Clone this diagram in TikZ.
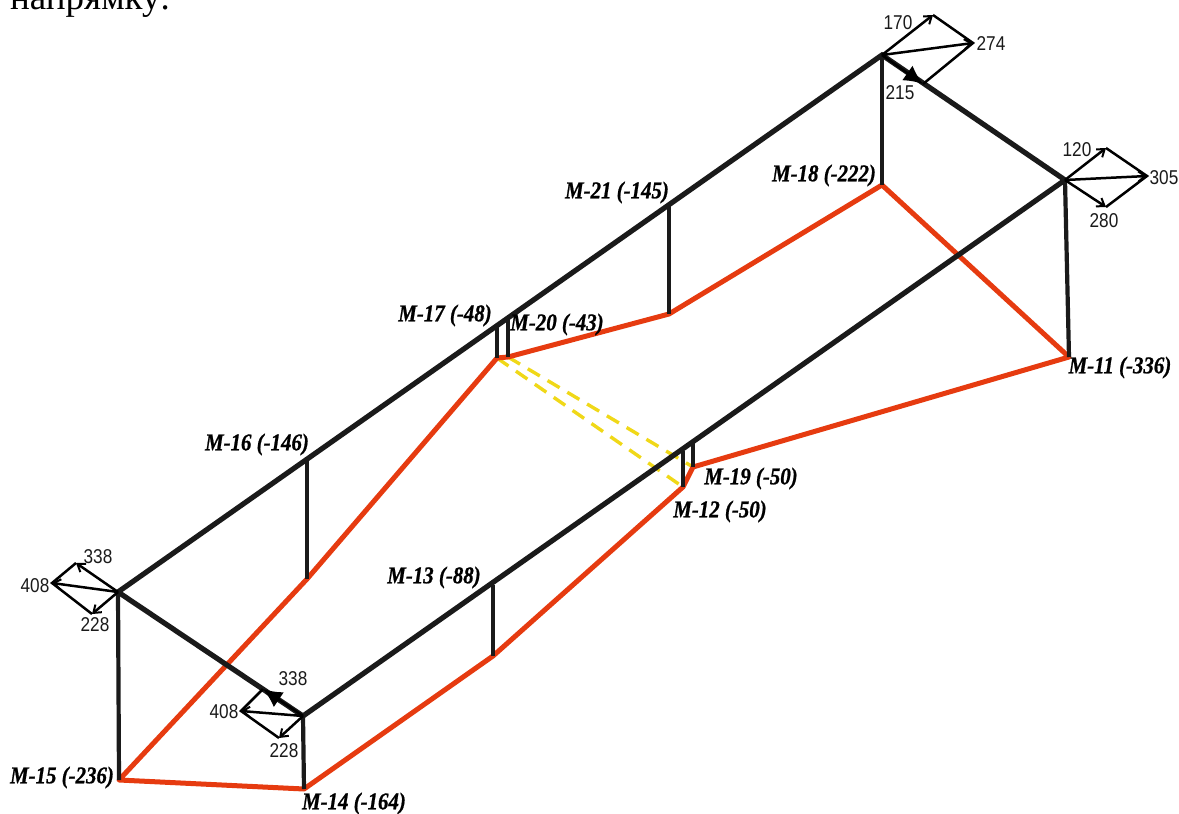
\documentclass[tikz,border=0pt]{standalone}
\usepackage{fontspec}
\setmainfont{Liberation Serif}
\newfontfamily\numfont[FakeStretch=0.86]{Liberation Sans}
\newfontfamily\markfont[FakeStretch=0.87,BoldItalicFeatures={FakeStretch=0.87,FakeBold=0.8}]{Liberation Serif}
\usetikzlibrary{arrows.meta}
\definecolor{beam}{HTML}{1A1A1A}
\definecolor{cable}{HTML}{E63B10}
\definecolor{yel}{HTML}{F0D818}
\tikzset{
  beamline/.style={draw=beam,line width=5.2pt,line cap=round},
  hangline/.style={draw=beam,line width=4.2pt},
  cableline/.style={draw=cable,line width=5pt,line join=round},
  tieline/.style={draw=yel,line width=3.4pt,dash pattern=on 14pt off 9pt},
  force/.style={draw=black,line width=2.5pt,-{Straight Barb[length=7pt,width=10pt,line width=2pt]}},
  bigforce/.style={draw=black,line width=2.5pt,-{Latex[length=19pt,width=18pt]}},
  guide/.style={draw=black,line width=2.5pt},
  marklabel/.style={inner sep=0pt,yshift=-1.5pt,font=\markfont\fontsize{24}{24}\selectfont\bfseries\itshape,text=black},
  numlabel/.style={inner sep=0pt,yshift=-0.5pt,font=\numfont\fontsize{20}{20}\selectfont,text=beam},
}
\begin{document}
\begin{tikzpicture}[x=1pt,y=-1pt]
\path[use as bounding box] (0,0) rectangle (1179,814);
\begin{scope}
\clip (0,0) rectangle (1179,814);
\node[inner sep=0pt,anchor=base west,font=\fontsize{37}{37}\selectfont] (head) at (10,9) {напрямку:};
\end{scope}
% corners of the top frame
\coordinate (A) at (118,592);
\coordinate (T) at (882,55);
\coordinate (R) at (1065,180);
\coordinate (B) at (303,716);
% lower chord
\coordinate (m15) at (119,780);
\coordinate (m14) at (304,789);
\coordinate (m13) at (493,656);
\coordinate (m12) at (683,487);
\coordinate (m19) at (693,467);
\coordinate (m11) at (1069,357);
\coordinate (m18) at (882,185);
\coordinate (m21) at (669,314);
\coordinate (m20) at (508,357);
\coordinate (m17) at (497,358);
\coordinate (m16) at (307,579);
% hanger tops
\coordinate (t21) at (669,203);
\coordinate (t16) at (307,458);
\coordinate (t13) at (493,585);
\coordinate (t17) at (497,325);
\coordinate (t20) at (508,318);
\coordinate (t12) at (683,451);
\coordinate (t19) at (693,443);
% tie
\draw[tieline] (m17) -- (m12);
\draw[tieline] (m20) -- (m19);
% cable
\draw[cableline] (m15) -- (m14) -- (m13) -- (m12) -- (m19) -- (m11) -- (m18) -- (m21) -- (m20) -- (m17) -- (m16) -- cycle;
% frame
\draw[beamline] (A) -- (T) -- (R) -- (B) -- cycle;
% hangers
\foreach \a/\b in {A/m15,B/m14,T/m18,R/m11,t21/m21,t16/m16,t13/m13,t17/m17,t20/m20,t12/m12,t19/m19}
  \draw[hangline] (\a) -- (\b);
% force parallelograms
\coordinate (T1) at (933,15);
\coordinate (T2) at (973,43);
\coordinate (T3) at (923,84);
\draw[force] (T) -- (T1);
\draw[force] (T) -- (T2);
\draw[bigforce] (T) -- (T3);
\draw[guide] (T1) -- (T2) -- (T3);
\coordinate (R1) at (1106,148);
\coordinate (R2) at (1147,176);
\coordinate (R3) at (1106,207);
\draw[force] (R) -- (R1);
\draw[force] (R) -- (R2);
\draw[force] (R) -- (R3);
\draw[guide] (R1) -- (R2) -- (R3);
\coordinate (A1) at (76,563);
\coordinate (A2) at (52,583);
\coordinate (A3) at (92,614);
\draw[force] (A) -- (A1);
\draw[force] (A) -- (A2);
\draw[force] (A) -- (A3);
\draw[guide] (A1) -- (A2) -- (A3);
\coordinate (B1) at (263,689);
\coordinate (B2) at (241,711);
\coordinate (B3) at (279,738);
\draw[bigforce] (B) -- (B1);
\draw[force] (B) -- (B2);
\draw[force] (B) -- (B3);
\draw[guide] (B1) -- (B2) -- (B3);
% mark labels
\node[marklabel] (l21) at (617,191) {M-21 (-145)};
\node[marklabel] (l18) at (824,174) {M-18 (-222)};
\node[marklabel] (l17) at (445,314) {M-17 (-48)};
\node[marklabel] (l20) at (557,323) {M-20 (-43)};
\node[marklabel] (l11) at (1120,366) {M-11 (-336)};
\node[marklabel] (l16) at (257,443) {M-16 (-146)};
\node[marklabel] (l19) at (751,477) {M-19 (-50)};
\node[marklabel] (l12) at (720,510) {M-12 (-50)};
\node[marklabel] (l13) at (434,576) {M-13 (-88)};
\node[marklabel] (l15) at (62,776) {M-15 (-236)};
\node[marklabel] (l14) at (354,802) {M-14 (-164)};
% force labels
\node[numlabel] (n170) at (898,22) {170};
\node[numlabel] (n274) at (991,43) {274};
\node[numlabel] (n215) at (900,92) {215};
\node[numlabel] (n120) at (1077,149) {120};
\node[numlabel] (n305) at (1164,177) {305};
\node[numlabel] (n280) at (1104,220) {280};
\node[numlabel] (n338a) at (98,556) {338};
\node[numlabel] (n408a) at (35,585) {408};
\node[numlabel] (n228a) at (95,624) {228};
\node[numlabel] (n338b) at (293,678) {338};
\node[numlabel] (n408b) at (224,711) {408};
\node[numlabel] (n228b) at (284,750) {228};
\end{tikzpicture}
\end{document}
